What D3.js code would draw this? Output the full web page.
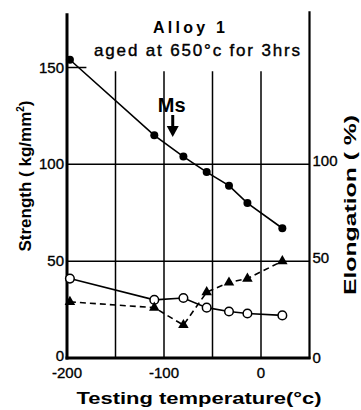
<!DOCTYPE html>
<html>
<head>
<meta charset="utf-8">
<script src="https://cdn.jsdelivr.net/npm/d3@7"></script>
<style>
  body { margin: 0; background: #fff; }
  svg { display: block; font-family: "Liberation Sans", Arial, sans-serif; }
</style>
</head>
<body>
<div id="chart"></div>
<script>
// data
const temps = [-197, -110, -80, -56, -33, -14, 22];
const strength = [154, 115, 104, 96, 89, 80, 67];       // filled circles
const elongA = [41, 30, 31, 26, 24, 23, 22];            // open circles
const elongB = [29, 26, 17, 34, 39, 41, 50];            // triangles, dashed
const xTicks = [-200, -100, 0];
const yTicksLeft = [0, 50, 100, 150];
const yTicksRight = [0, 50, 100];
const gridX = [-150, -100, -50, 0];
const gridY = [50, 100];
const msTemp = -91;

const W = 361, H = 410;
const svg = d3.select("#chart").append("svg").attr("width", W).attr("height", H);

const x = d3.scaleLinear().domain([-200, 50]).range([67, 309.5]);
const y = d3.scaleLinear().domain([0, 150]).range([358, 67.5]);

//grid
svg.selectAll(".gx").data(gridX).enter().append("line")
  .attr("x1", d => x(d)).attr("x2", d => x(d))
  .attr("y1", y(0)).attr("y2", y(148))
  .attr("stroke", "#000").attr("stroke-width", 1.5);
svg.selectAll(".gy").data(gridY).enter().append("line")
  .attr("x1", x(-200)).attr("x2", x(50))
  .attr("y1", d => y(d)).attr("y2", d => y(d))
  .attr("stroke", "#000").attr("stroke-width", 1.5);
svg.append("line").attr("x1", x(-200)).attr("x2", x(-180))
  .attr("y1", y(150)).attr("y2", y(150)).attr("stroke", "#000").attr("stroke-width", 1.5);

// axes frame
svg.append("line").attr("x1", x(-200)).attr("x2", x(-200)).attr("y1", y(178)).attr("y2", y(0) + 1.5)
  .attr("stroke", "#000").attr("stroke-width", 3);
svg.append("line").attr("x1", x(50)).attr("x2", x(50)).attr("y1", y(179)).attr("y2", y(0) + 1)
  .attr("stroke", "#000").attr("stroke-width", 2.2);
svg.append("line").attr("x1", x(-200) - 1.5).attr("x2", x(50) + 1).attr("y1", y(0)).attr("y2", y(0))
  .attr("stroke", "#000").attr("stroke-width", 3);

// tick labels
const tickFont = 15;
svg.selectAll(".xl").data(xTicks).enter().append("text")
  .attr("x", d => x(d)).attr("y", 378).attr("text-anchor", "middle")
  .attr("font-size", tickFont).attr("stroke", "#000").attr("stroke-width", 0.35)
  .text(d => d < 0 ? "-" + Math.abs(d) : d);
svg.selectAll(".yl").data(yTicksLeft).enter().append("text")
  .attr("x", x(-200) - 3).attr("y", d => y(d) + 5 + (d === 0 ? -2 : 0)).attr("text-anchor", "end")
  .attr("font-size", tickFont).attr("stroke", "#000").attr("stroke-width", 0.35).text(d => d);
svg.selectAll(".yr").data(yTicksRight).enter().append("text")
  .attr("x", x(50) + 3).attr("y", d => y(d) + 5 + (d === 0 ? 0 : -3)).attr("text-anchor", "start")
  .attr("font-size", tickFont).attr("stroke", "#000").attr("stroke-width", 0.35).text(d => d);

// axis titles
svg.append("text").attr("x", 199).attr("y", 404).attr("text-anchor", "middle")
  .attr("font-size", 16).attr("font-weight", "bold")
  .attr("textLength", 245).attr("lengthAdjust", "spacingAndGlyphs")
  .text("Testing temperature(°c)");
const yl = svg.append("text").attr("transform", "translate(31,176) rotate(-90)")
  .attr("text-anchor", "middle").attr("font-size", 17).attr("font-weight", "bold");
yl.append("tspan").text("Strength ( kg/mm");
yl.append("tspan").attr("font-size", 10).attr("dy", -7).text("2");
yl.append("tspan").attr("dy", 7).text(")");
svg.append("text").attr("transform", "translate(356,205) rotate(-90)")
  .attr("text-anchor", "middle").attr("font-size", 16).attr("font-weight", "bold")
  .attr("textLength", 180).attr("lengthAdjust", "spacingAndGlyphs")
  .text("Elongation ( %)");

// title
svg.append("text").attr("x", 189).attr("y", 33).attr("text-anchor", "middle")
  .attr("font-size", 16).attr("font-weight", "bold")
  .attr("textLength", 72).attr("lengthAdjust", "spacing").text("Alloy 1");
svg.append("text").attr("x", 197).attr("y", 56).attr("text-anchor", "middle")
  .attr("font-size", 17).attr("stroke", "#000").attr("stroke-width", 0.4)
  .attr("textLength", 206).attr("lengthAdjust", "spacing").text("aged at 650°c for 3hrs");

// Ms arrow
svg.append("text").attr("x", x(msTemp) - 1).attr("y", 112).attr("text-anchor", "middle")
  .attr("font-size", 20).attr("font-weight", "bold").text("Ms");
svg.append("line").attr("x1", x(msTemp)).attr("x2", x(msTemp)).attr("y1", 115).attr("y2", 128)
  .attr("stroke", "#000").attr("stroke-width", 3);
svg.append("path")
  .attr("d", `M${x(msTemp) - 6},126 L${x(msTemp) + 6},126 L${x(msTemp)},137 Z`)
  .attr("fill", "#000");

// series
const line = d3.line().x(d => x(d[0])).y(d => y(d[1]));
const sData = temps.map((t, i) => [t, strength[i]]);
const aData = temps.map((t, i) => [t, elongA[i]]);
const bData = temps.map((t, i) => [t, elongB[i]]);

svg.append("path").datum(sData).attr("d", line).attr("fill", "none")
  .attr("stroke", "#000").attr("stroke-width", 1.6);
svg.append("path").datum(aData).attr("d", line).attr("fill", "none")
  .attr("stroke", "#000").attr("stroke-width", 1.6);
svg.append("path").datum(bData).attr("d", line).attr("fill", "none")
  .attr("stroke", "#000").attr("stroke-width", 1.6).attr("stroke-dasharray", "6,4");

svg.selectAll(".sd").data(sData).enter().append("circle")
  .attr("cx", d => x(d[0])).attr("cy", d => y(d[1])).attr("r", 4).attr("fill", "#000");
svg.selectAll(".ad").data(aData).enter().append("circle")
  .attr("cx", d => x(d[0])).attr("cy", d => y(d[1])).attr("r", 4.3)
  .attr("fill", "#fff").attr("stroke", "#000").attr("stroke-width", 1.5);
const tri = d3.symbol().type(d3.symbolTriangle).size(48);
svg.selectAll(".bd").data(bData).enter().append("path")
  .attr("d", tri).attr("transform", d => `translate(${x(d[0])},${y(d[1])})`)
  .attr("fill", "#000");
</script>
</body>
</html>
